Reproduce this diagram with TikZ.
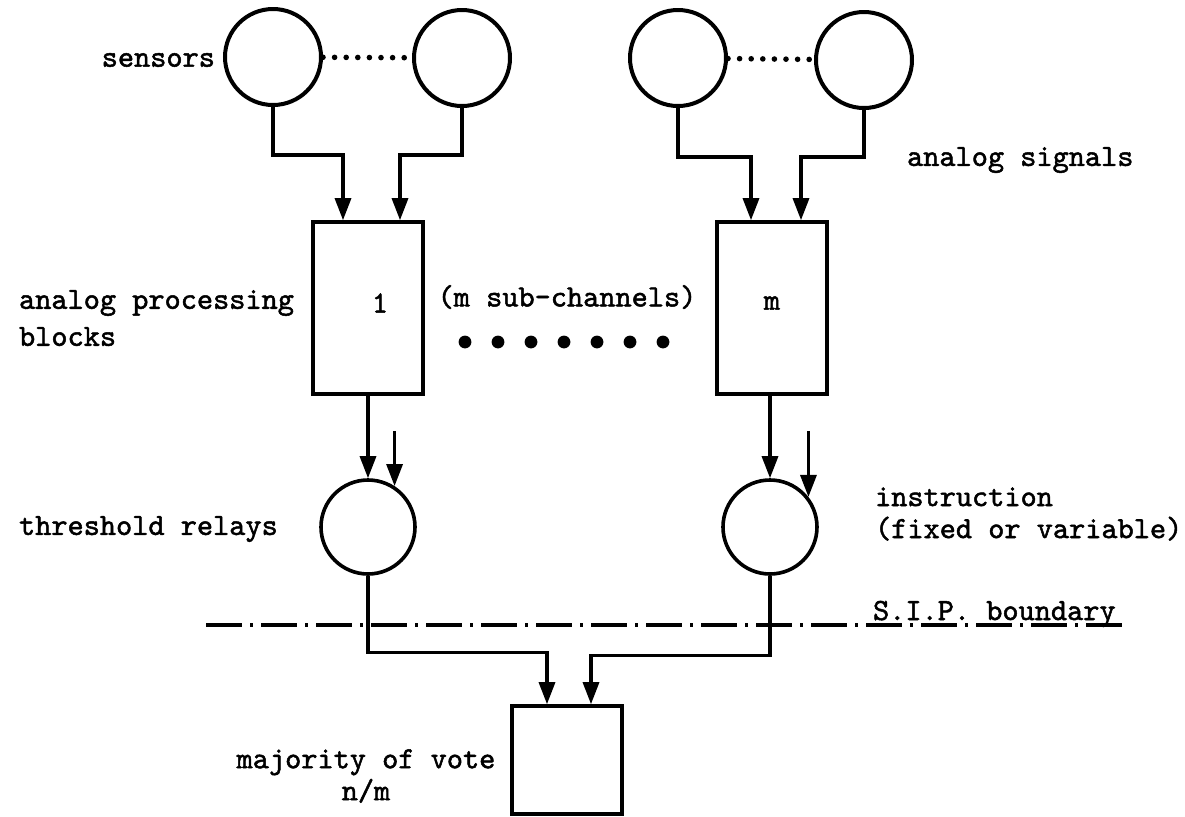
\documentclass[tikz,border=0pt]{standalone}
\usepackage{fontspec}
\newfontfamily\typew{lmmono10-regular.otf}[FakeBold=1.6]
\usetikzlibrary{arrows.meta}

\begin{document}
\begin{tikzpicture}[x=0.5pt, y=-0.5pt, font=\typew\fontsize{15.4}{16}\selectfont,
  sensor/.style={draw, circle, line width=2pt, minimum size=48pt, inner sep=0pt},
  relay/.style={draw, circle, line width=1.8pt, minimum size=47pt, inner sep=0pt},
  block/.style={draw, rectangle, line width=1.8pt, minimum width=55pt, minimum height=86pt, inner sep=0pt},
  arr/.style={line width=1.6pt, -{Triangle[length=11pt,width=8pt]}},
  dots/.style={line width=2.8pt, line cap=round, dash pattern=on 0pt off 5.8pt},
  sip/.style={line width=1.8pt, dash pattern=on 18pt off 4pt on 1.5pt off 4pt}]
\useasboundingbox (0,0) rectangle (1185,816);
% sensors
\node[sensor] (s1) at (273,57) {};
\node[sensor] (s2) at (462,58) {};
\node[sensor] (s3) at (678,58) {};
\node[sensor] (s4) at (864,60) {};
\draw[dots] (s1) -- (s2);
\draw[dots] (s3) -- (s4);
\node[anchor=east] (lsens) at (222,60) {sensors};
\node[anchor=west] (lsig) at (900,160) {analog signals};
% processing blocks
\node[block] (b1) at (368,308) {};
\node (n1) at (380,303) {1};
\node[block] (bm) at (772,308) {};
\node (nm) at (772,303) {m};
\node[anchor=west, align=left, font=\typew\fontsize{15.4}{18.5}\selectfont] (lproc) at (12,318) {analog processing\\blocks};
\node (lsub) at (567,297) {(m sub-channels)};
\foreach \i in {0,...,6}
  \fill (465+33*\i,342) circle (3.2pt);
% sensors -> blocks
\draw[arr] (s1.south) -- ++(0,48) -| ([xshift=-12.5pt]b1.north);
\draw[arr] (s2.south) -- ++(0,47) -| ([xshift=16pt]b1.north);
\draw[arr] (s3.south) -- ++(0,49) -| ([xshift=-10.5pt]bm.north);
\draw[arr] (s4.south) -- ++(0,47) -| ([xshift=14.5pt]bm.north);
% threshold relays
\node[relay] (t1) at (368,527) {};
\node[relay] (tm) at (770,527) {};
\draw[arr] (b1.south) -- (t1.north);
\draw[arr] (tm.north |- bm.south) -- (tm.north);
\path (t1.57) ++(0,-55) coordinate (i1);
\draw[arr] (i1) -- (t1.57);
\path (tm.38) ++(0,-66) coordinate (im);
\draw[arr] (im) -- (tm.38);
\node[anchor=west] (lthr) at (12,529) {threshold relays};
\node[anchor=west, align=left] (linst) at (868,514) {instruction\\(fixed or variable)};
% S.I.P. boundary
\coordinate (sipL) at (206,625);
\coordinate (sipR) at (1124,625);
\draw[sip] (sipL) -- (sipR);
\node[anchor=base west] (lsip) at (866,620) {S.I.P. boundary};
% vote
\node[block, minimum height=54pt] (v) at (567,760) {};
\draw[arr] (t1.south) -- ++(0,77) -| ([xshift=-10pt]v.north);
\draw[arr] (tm.south) -- ++(0,80) -| ([xshift=12pt]v.north);
\node[align=center] (lvote) at (366,776) {majority of vote\\n/m};
\end{tikzpicture}
\end{document}
